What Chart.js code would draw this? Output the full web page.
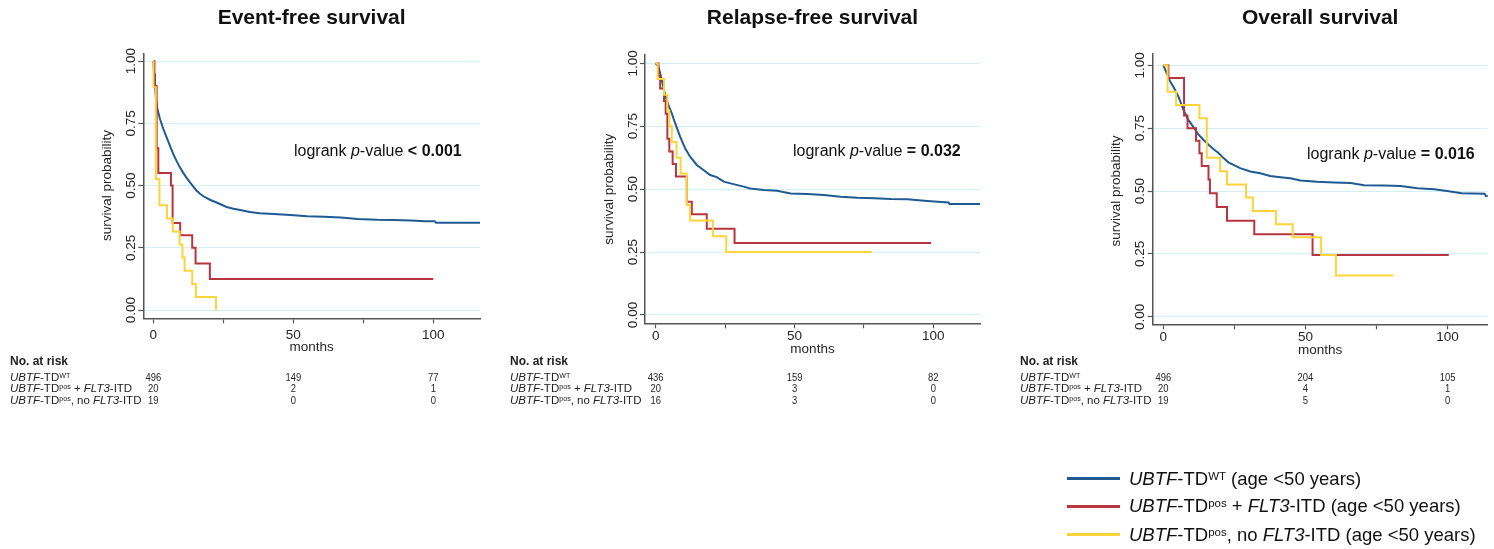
<!DOCTYPE html>
<html lang="en">
<head>
<meta charset="UTF-8">
<title>UBTF-TD survival, age &lt;50 years</title>
<script src="https://cdn.jsdelivr.net/npm/chart.js"></script>
<style>
    body { margin: 0; background: #fff; font-family: "Liberation Sans", Arial, sans-serif; color: #111; }
    #page { position: relative; width: 1494px; height: 549px; overflow: hidden; }
    canvas { position: absolute; top: 0; z-index: 0; }
    .txt { position: absolute; white-space: nowrap; z-index: 1; }
    .title { font-weight: bold; font-size: 21px; line-height: 24px; transform: translateX(-50%); }
    .logrank { font-size: 16px; line-height: 20px; }
    .risk { font-size: 11.5px; line-height: 12px; color: #222; }
    .risk.hd { font-weight: bold; font-size: 12px; }
    .leg { font-size: 18.5px; line-height: 20px; }
    .swatch { position: absolute; width: 53px; height: 3px; z-index: 1; }
    sup { font-size: 0.62em; vertical-align: 0.45em; line-height: 0; }
</style>
</head>
<body>
<div id="page"></div>

<script>
    // groups, shared by all three panels
    const groupColors = ['#1f5a92', '#b83440', '#fdd439'];
    const groupLabels = [
        '<i>UBTF</i>-TD<sup>WT</sup>',
        '<i>UBTF</i>-TD<sup>pos</sup> + <i>FLT3</i>-ITD',
        '<i>UBTF</i>-TD<sup>pos</sup>, no <i>FLT3</i>-ITD'
    ];
    const legendSuffix = ' (age &lt;50 years)';

    // axes
    const xTicks = [0, 25, 50, 75, 100];
    const xTickLabels = [0, 50, 100];
    const yTicks = [0, 0.25, 0.5, 0.75, 1];
    const riskMonths = [0, 50, 100];

    // Event-free survival: [months, survival after the step at that month]
    const efsWT = [[0, 1], [0.3, 0.95], [0.6, 0.9], [1.0, 0.845], [1.5, 0.805], [2.4, 0.767], [3.6, 0.727],
        [4.8, 0.692], [6.0, 0.658], [7.1, 0.627], [8.3, 0.599], [9.5, 0.573], [10.7, 0.551], [11.9, 0.531],
        [13.1, 0.513], [14.3, 0.496], [15.5, 0.479], [16.7, 0.467], [17.9, 0.457], [20.2, 0.443], [22.6, 0.432],
        [24.4, 0.423], [26.2, 0.414], [28.6, 0.407], [31, 0.402], [34.5, 0.394], [38, 0.389], [43, 0.386],
        [49, 0.382], [55, 0.377], [61, 0.375], [67, 0.372], [73, 0.366], [80, 0.363], [86, 0.362], [92, 0.36],
        [97, 0.357], [100.5, 0.357], [101, 0.351], [117, 0.351]];
    const efsFlt3 = [[0, 1], [0.4, 0.9], [1.2, 0.65], [1.8, 0.55], [6.3, 0.5], [6.9, 0.35], [9.6, 0.3],
        [13.9, 0.25], [15.1, 0.1875], [20.2, 0.125], [100, 0.125]];
    const efsNoFlt3 = [[0, 1], [0.05, 0.895], [0.9, 0.526], [2.2, 0.421], [4.9, 0.368], [7.0, 0.316],
        [9.4, 0.263], [10.4, 0.211], [11.2, 0.158], [13.9, 0.105], [15.2, 0.053], [22.4, 0]];
    const efsAtRisk = [[496, 149, 77], [20, 2, 1], [19, 0, 0]];

    // Relapse-free survival
    const rfsWT = [[0, 1], [1, 0.987], [2.2, 0.934], [3.4, 0.874], [4.6, 0.834], [5.8, 0.801], [7, 0.762],
        [8.8, 0.709], [10.6, 0.662], [12.4, 0.629], [14.8, 0.596], [17.2, 0.576], [19.6, 0.556], [22, 0.548],
        [24.5, 0.53], [28, 0.52], [31.7, 0.51], [34, 0.503], [38.9, 0.497], [43.7, 0.494], [48.6, 0.483],
        [54.6, 0.481], [60.6, 0.477], [66.6, 0.47], [72.7, 0.466], [78.7, 0.464], [84.7, 0.461], [90.7, 0.46],
        [96.7, 0.454], [101.6, 0.45], [105.5, 0.447], [105.8, 0.441], [117, 0.441]];
    const rfsFlt3 = [[0, 1], [1.0, 0.95], [1.6, 0.9], [3.0, 0.85], [3.6, 0.8], [4.2, 0.7], [4.9, 0.65],
        [6.1, 0.6], [7.3, 0.55], [11.2, 0.45], [13.0, 0.4], [18.4, 0.343], [28.4, 0.286], [99.2, 0.286]];
    const rfsNoFlt3 = [[0, 1], [0.7, 0.9375], [3.0, 0.875], [4.2, 0.8125], [4.9, 0.75], [5.8, 0.6875],
        [7.5, 0.625], [9.0, 0.5625], [11.2, 0.4375], [12.4, 0.375], [20.6, 0.3125], [25.4, 0.25], [77.8, 0.25]];
    const rfsAtRisk = [[436, 159, 82], [20, 3, 0], [16, 3, 0]];

    // Overall survival
    const osWT = [[0, 1], [1.2, 0.969], [2.4, 0.936], [3.5, 0.916], [5.3, 0.876], [7.1, 0.823], [8.8, 0.783],
        [10.6, 0.754], [12.4, 0.724], [14.1, 0.704], [15.9, 0.684], [17.6, 0.667], [19.4, 0.651], [21.2, 0.631],
        [22.9, 0.614], [24.7, 0.604], [27, 0.591], [30.6, 0.578], [34.1, 0.571], [37.6, 0.56], [41.2, 0.555],
        [44.7, 0.551], [48.2, 0.542], [54.1, 0.537], [60, 0.534], [65.9, 0.532], [70.6, 0.523], [77.6, 0.522],
        [83.5, 0.52], [89.4, 0.511], [95.3, 0.507], [101, 0.498], [105, 0.491], [113, 0.489], [113.5, 0.48],
        [114.5, 0.48]];
    const osFlt3 = [[0, 1], [1.8, 0.95], [7.3, 0.8], [8.5, 0.75], [11.5, 0.7], [12.7, 0.65], [13.5, 0.6],
        [15.9, 0.546], [16.4, 0.491], [18.8, 0.437], [22.4, 0.382], [32, 0.328], [52.5, 0.246], [100.4, 0.246]];
    const osNoFlt3 = [[0, 1], [1.5, 0.895], [4.5, 0.842], [12.7, 0.789], [15.3, 0.632], [20, 0.579],
        [22.4, 0.526], [29.1, 0.474], [31.5, 0.421], [39.6, 0.368], [45.5, 0.316], [55.5, 0.246], [60.7, 0.164],
        [80.9, 0.164]];
    const osAtRisk = [[496, 204, 105], [20, 4, 1], [19, 5, 0]];

    // layout of the three panels (page pixels)
    const CANVAS_H = 420;
    const panels = [
        { title: 'Event-free survival', p: '&lt; 0.001', series: [efsWT, efsFlt3, efsNoFlt3], risk: efsAtRisk,
          left: 0, width: 495, area: [143.3, 53.3, 480, 318.3], x: [-3.57, 116.7], y: [-0.033, 1.031],
          pLeft: 294, pTop: 140.5, tickBase: 338.5, monthsBase: 350.5, riskLeft: 10 },
        { title: 'Relapse-free survival', p: '= 0.032', series: [rfsWT, rfsFlt3, rfsNoFlt3], risk: rfsAtRisk,
          left: 495, width: 500, area: [645, 55, 980, 323.3], x: [-3.85, 116.8], y: [-0.033, 1.033],
          pLeft: 793, pTop: 141.2, tickBase: 340, monthsBase: 353, riskLeft: 510 },
        { title: 'Overall survival', p: '= 0.016', series: [osWT, osFlt3, osNoFlt3], risk: osAtRisk,
          left: 995, width: 499, area: [1152.7, 54, 1487.7, 324.3], x: [-3.73, 114.1], y: [-0.03, 1.045],
          pLeft: 1307, pTop: 143.5, tickBase: 340.5, monthsBase: 353.5, riskLeft: 1020 }
    ];
    const riskBase = [380.5, 392, 403.5];
    const FONT = '"Liberation Sans", Arial, sans-serif';

    // text that follows the scales: tick labels, axis titles, numbers at risk
    const kmText = {
        id: 'kmText',
        afterDraw(chart, args, o) {
            const ctx = chart.ctx, xs = chart.scales.x, ys = chart.scales.y, a = chart.chartArea;
            ctx.save();
            ctx.fillStyle = '#262626';
            ctx.textAlign = 'center';
            ctx.textBaseline = 'middle';
            ctx.font = '13.5px ' + FONT;
            ys.ticks.forEach(t => {
                ctx.save();
                ctx.translate(a.left - 12, ys.getPixelForValue(t.value));
                ctx.rotate(-Math.PI / 2);
                ctx.fillText(t.value.toFixed(2), 0, 0);
                ctx.restore();
            });
            ctx.save();
            ctx.translate(a.left - 36, ys.getPixelForValue(0.5));
            ctx.rotate(-Math.PI / 2);
            ctx.fillText('survival probability', 0, 0);
            ctx.restore();

            ctx.textBaseline = 'alphabetic';
            xTickLabels.forEach(v => ctx.fillText(String(v), xs.getPixelForValue(v), o.tickBase));
            ctx.fillText('months', (a.left + a.right) / 2, o.monthsBase);

            // the numbers at risk are set in a condensed face in the original
            ctx.font = '11.5px ' + FONT;
            o.risk.forEach((row, i) => row.forEach((n, j) => {
                ctx.save();
                ctx.translate(xs.getPixelForValue(riskMonths[j]), riskBase[i]);
                ctx.scale(0.82, 1);
                ctx.fillText(String(n), 0, 0);
                ctx.restore();
            }));
            ctx.restore();
        }
    };

    const page = document.getElementById('page');

    function addText(cls, html, left, top) {
        const d = document.createElement('div');
        d.className = 'txt ' + cls;
        d.innerHTML = html;
        d.style.left = left + 'px';
        d.style.top = top + 'px';
        page.appendChild(d);
        return d;
    }

    panels.forEach(P => {
        const cv = document.createElement('canvas');
        cv.width = P.width;
        cv.height = CANVAS_H;
        cv.style.left = P.left + 'px';
        page.appendChild(cv);

        const [l, t, r, b] = P.area;
        const axisW = 6;
        new Chart(cv, {
            type: 'line',
            data: {
                datasets: P.series.map((s, i) => ({
                    data: s.map(([x, y]) => ({ x, y })),
                    borderColor: groupColors[i],
                    borderWidth: 2,
                    pointRadius: 0,
                    fill: false,
                    // Kaplan-Meier: hold the previous value, drop at the event time
                    stepped: i === 0 ? false : 'before',
                    order: 3 - i
                }))
            },
            options: {
                responsive: false,
                animation: false,
                devicePixelRatio: 1,
                layout: {
                    autoPadding: false,
                    padding: { left: l - P.left - axisW, right: P.left + P.width - r, top: t, bottom: CANVAS_H - b - axisW }
                },
                plugins: {
                    legend: { display: false },
                    tooltip: { enabled: false },
                    kmText: { risk: P.risk, tickBase: P.tickBase, monthsBase: P.monthsBase }
                },
                scales: {
                    x: {
                        type: 'linear', min: P.x[0], max: P.x[1],
                        afterBuildTicks: s => { s.ticks = xTicks.map(v => ({ value: v })); },
                        afterFit: s => { s.height = axisW; },
                        ticks: { display: false },
                        grid: { drawOnChartArea: false, tickLength: 5, tickColor: '#555', tickWidth: 1.2 },
                        border: { color: '#555', width: 1.5 }
                    },
                    y: {
                        type: 'linear', min: P.y[0], max: P.y[1],
                        afterBuildTicks: s => { s.ticks = yTicks.map(v => ({ value: v })); },
                        afterFit: s => { s.width = axisW; },
                        ticks: { display: false },
                        grid: { color: '#d4f0f5', lineWidth: 1, tickLength: 5, tickColor: '#555', tickWidth: 1.2 },
                        border: { color: '#555', width: 1.5 }
                    }
                }
            },
            plugins: [kmText]
        });

        addText('title', P.title, (l + r) / 2, 4.7);
        addText('logrank', 'logrank <i>p</i>-value <b>' + P.p + '</b>', P.pLeft, P.pTop);
        addText('risk hd', 'No. at risk', P.riskLeft, 365 - 10.2);
        groupLabels.forEach((g, i) => addText('risk', g, P.riskLeft, riskBase[i] - 10));
    });

    // legend
    const legendLineY = [478.3, 506.7, 534];
    const legendBase = [485, 512.7, 541];
    groupLabels.forEach((g, i) => {
        const sw = document.createElement('div');
        sw.className = 'swatch';
        sw.style.left = '1067px';
        sw.style.top = (legendLineY[i] - 1.5) + 'px';
        sw.style.background = groupColors[i];
        page.appendChild(sw);
        addText('leg', g + legendSuffix, 1129, legendBase[i] - 16.4);
    });
</script>
</body>
</html>
